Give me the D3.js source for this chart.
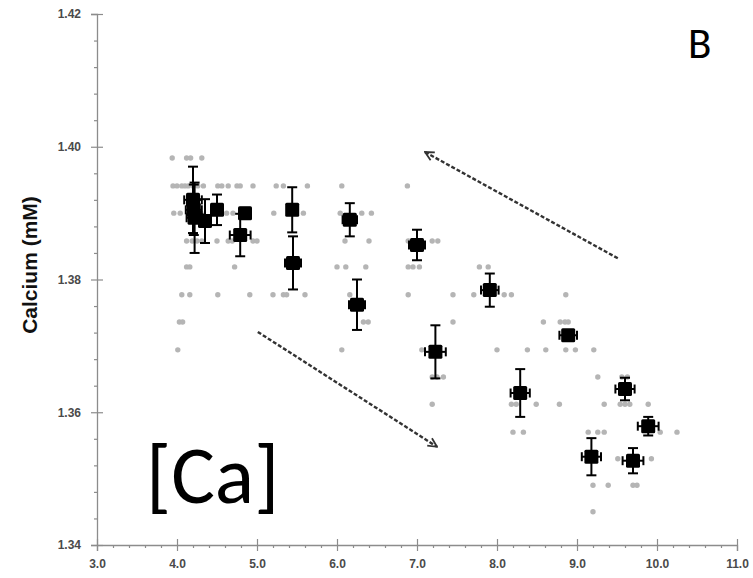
<!DOCTYPE html>
<html>
<head>
<meta charset="utf-8">
<script src="https://cdn.jsdelivr.net/npm/d3@7"></script>
<style>
  html, body { margin: 0; padding: 0; background: #fff; }
  svg { display: block; }
</style>
</head>
<body>
<svg id="chart" width="753" height="578"></svg>
<script>
// Individual calcium readings: quantised levels (mM) and the pH values read at each level
const dotLevels = [1.3983, 1.3941, 1.3900, 1.3858, 1.3819, 1.3777, 1.3736, 1.3694, 1.3653, 1.3612, 1.3570, 1.3530, 1.3490, 1.3450];
const dotXs = [
  [3.94, 4.12, 4.17, 4.31],
  [3.95, 4.00, 4.06, 4.10, 4.14, 4.20, 4.26, 4.33, 4.51, 4.56, 4.64, 4.75, 4.79, 4.95, 5.24, 5.33, 5.63, 6.06, 6.88],
  [3.96, 4.04, 4.15, 4.30, 4.62, 4.70, 5.21, 5.58, 6.04, 6.31, 6.43],
  [4.12, 4.19, 4.25, 4.31, 4.50, 4.64, 4.69, 4.95, 5.00, 6.10, 6.40, 6.89, 7.19, 7.26],
  [4.12, 4.16, 4.72, 6.00, 6.11, 6.36, 6.89, 6.95, 7.03, 7.78, 7.89],
  [4.06, 4.16, 4.51, 4.91, 5.20, 5.33, 5.37, 5.60, 6.16, 6.89, 7.45, 7.71, 8.09, 8.18, 8.86],
  [4.03, 4.07, 6.33, 6.39, 7.45, 8.58, 8.79, 8.85, 8.89],
  [4.01, 6.06, 7.06, 8.00, 8.38, 8.61, 8.86, 8.98, 9.21],
  [7.19, 7.25, 7.33, 9.26, 9.56, 9.63],
  [7.19, 8.18, 8.24, 8.49, 8.78, 9.34, 9.54, 9.60, 9.66, 9.89],
  [8.20, 8.33, 9.14, 9.26, 9.34, 10.04, 10.25],
  [9.20, 9.51, 9.93],
  [9.20, 9.39, 9.70, 9.75],
  [9.20]
];

// Group means with error (pH ± xErr, Ca ± yErr)
const meanPH  = [4.20, 4.21, 4.22, 4.35, 4.50, 4.79, 4.85, 5.44, 5.45, 6.16, 6.25, 7.00, 7.23, 7.91, 8.29, 8.89, 9.18, 9.60, 9.70, 9.89];
const meanCa  = [1.3920, 1.3905, 1.3893, 1.3888, 1.3905, 1.3867, 1.3900, 1.3905, 1.3825, 1.3890, 1.3762, 1.3852, 1.3691, 1.3784, 1.3629, 1.3716, 1.3533, 1.3635, 1.3527, 1.3579];
const errCa   = [0.0050, 0.0038, 0.0053, 0.0033, 0.0023, 0.0032, 0.0008, 0.0034, 0.0040, 0.0025, 0.0038, 0.0023, 0.0040, 0.0025, 0.0036, 0.0006, 0.0028, 0.0017, 0.0019, 0.0014];
const errPH   = [0.11, 0.10, 0.10, 0.06, 0.05, 0.13, 0.03, 0.03, 0.10, 0.09, 0.10, 0.10, 0.13, 0.11, 0.12, 0.11, 0.12, 0.12, 0.13, 0.13];

// Axis ticks
const xMajor = [3, 4, 5, 6, 7, 8, 9, 10, 11];
const yMajor = [1.34, 1.36, 1.38, 1.40, 1.42];

// Trend arrows [fromPH, fromCa, toPH, toCa]
const arrowUp   = [9.51, 1.3832, 7.10, 1.3992];
const arrowDown = [5.01, 1.3721, 7.25, 1.3548];

const svg = d3.select("#chart");
const x = d3.scaleLinear().domain([3, 11]).range([97, 737]);
const y = d3.scaleLinear().domain([1.34, 1.42]).range([545, 14]);

const defs = svg.append("defs");
defs.append("filter").attr("id", "soft")
  .append("feGaussianBlur").attr("stdDeviation", 0.6);
defs.append("marker")
  .attr("id", "head").attr("viewBox", "0 0 10 10")
  .attr("refX", 9).attr("refY", 5)
  .attr("markerWidth", 11).attr("markerHeight", 11)
  .attr("markerUnits", "userSpaceOnUse")
  .attr("orient", "auto")
  .append("path").attr("d", "M1,1 L9,5 L1,9")
  .attr("fill", "none").attr("stroke", "#333").attr("stroke-width", 1.6);

const axisColor = "#8c8c8c";
const labelFont = "'Liberation Sans', Arial, sans-serif";

// Minor ticks
const xMinor = d3.range(3, 11.0001, 0.2).filter(v => Math.abs(v - Math.round(v)) > 1e-6);
const yMinor = d3.range(1.34, 1.42001, 0.004).filter(v => yMajor.every(m => Math.abs(v - m) > 1e-6));

function styleAxis(g) {
  g.selectAll("path.domain").attr("stroke", axisColor).attr("stroke-width", 1.3);
  g.selectAll(".tick line").attr("stroke", axisColor).attr("stroke-width", 1.2);
  g.selectAll(".tick text")
    .attr("fill", "#4a4a4a").attr("font-family", labelFont)
    .attr("font-size", 12).attr("font-weight", "bold");
}

// X axis
const gx = svg.append("g").attr("transform", `translate(0,${y(1.34)})`);
gx.call(d3.axisBottom(x).tickValues(xMajor).tickSize(6).tickPadding(8).tickFormat(d3.format(".1f")));
styleAxis(gx);
svg.append("g").attr("transform", `translate(0,${y(1.34)})`)
  .call(d3.axisTop(x).tickValues(xMajor).tickSize(6).tickFormat(""))
  .call(g => g.select("path.domain").remove()).call(styleAxis);
svg.append("g").attr("transform", `translate(0,${y(1.34)})`)
  .call(d3.axisBottom(x).tickValues(xMinor).tickSize(3).tickFormat(""))
  .call(g => g.select("path.domain").remove()).call(styleAxis);

// Y axis
const gy = svg.append("g").attr("transform", `translate(${x(3)},0)`);
gy.call(d3.axisLeft(y).tickValues(yMajor).tickSize(6).tickPadding(10).tickFormat(d3.format(".2f")));
styleAxis(gy);
svg.append("g").attr("transform", `translate(${x(3)},0)`)
  .call(d3.axisRight(y).tickValues(yMajor).tickSize(6).tickFormat(""))
  .call(g => g.select("path.domain").remove()).call(styleAxis);
svg.append("g").attr("transform", `translate(${x(3)},0)`)
  .call(d3.axisLeft(y).tickValues(yMinor).tickSize(3).tickFormat(""))
  .call(g => g.select("path.domain").remove()).call(styleAxis);

// Y axis title
svg.append("text")
  .attr("transform", `translate(37,265) rotate(-90)`)
  .attr("text-anchor", "middle")
  .attr("font-family", labelFont).attr("font-weight", "bold").attr("font-size", 21)
  .attr("fill", "#111")
  .text("Calcium (mM)");

// Individual readings
const dots = [];
dotLevels.forEach((lv, i) => dotXs[i].forEach(v => dots.push([v, lv])));
svg.append("g").attr("filter", "url(#soft)")
  .selectAll("circle").data(dots).join("circle")
  .attr("cx", d => x(d[0])).attr("cy", d => y(d[1]))
  .attr("r", 2.7).attr("fill", "#b5b5b5");

// Trend arrows
[arrowUp, arrowDown].forEach(a => {
  svg.append("line")
    .attr("x1", x(a[0])).attr("y1", y(a[1]))
    .attr("x2", x(a[2])).attr("y2", y(a[3]))
    .attr("stroke", "#333").attr("stroke-width", 2.4)
    .attr("stroke-dasharray", "4,2")
    .attr("marker-end", "url(#head)");
});

// Means with error bars
const means = meanPH.map((v, i) => ({ x: v, y: meanCa[i], ey: errCa[i], ex: errPH[i] }));
const gm = svg.append("g").attr("filter", "url(#soft)");
const cap = 5, capX = 4.5;
const eb = gm.selectAll("g.err").data(means).join("g").attr("class", "err")
  .attr("stroke", "#000").attr("stroke-width", 2);
eb.append("line")
  .attr("x1", d => x(d.x)).attr("x2", d => x(d.x))
  .attr("y1", d => y(d.y + d.ey)).attr("y2", d => y(d.y - d.ey));
eb.append("line")
  .attr("x1", d => x(d.x) - cap).attr("x2", d => x(d.x) + cap)
  .attr("y1", d => y(d.y + d.ey)).attr("y2", d => y(d.y + d.ey));
eb.append("line")
  .attr("x1", d => x(d.x) - cap).attr("x2", d => x(d.x) + cap)
  .attr("y1", d => y(d.y - d.ey)).attr("y2", d => y(d.y - d.ey));
eb.append("line")
  .attr("x1", d => x(d.x - d.ex)).attr("x2", d => x(d.x + d.ex))
  .attr("y1", d => y(d.y)).attr("y2", d => y(d.y));
eb.append("line")
  .attr("x1", d => x(d.x - d.ex)).attr("x2", d => x(d.x - d.ex))
  .attr("y1", d => y(d.y) - capX).attr("y2", d => y(d.y) + capX);
eb.append("line")
  .attr("x1", d => x(d.x + d.ex)).attr("x2", d => x(d.x + d.ex))
  .attr("y1", d => y(d.y) - capX).attr("y2", d => y(d.y) + capX);
gm.selectAll("rect").data(means).join("rect")
  .attr("x", d => x(d.x) - 7).attr("y", d => y(d.y) - 7)
  .attr("width", 14).attr("height", 14).attr("rx", 1.5)
  .attr("fill", "#000");

// Panel letter and ion label
svg.append("text")
  .attr("x", 688).attr("y", 58)
  .attr("font-family", "Carlito, 'Open Sans', sans-serif").attr("font-size", 43)
  .attr("fill", "#000").text("B");
svg.append("text")
  .attr("x", 146).attr("y", 503)
  .attr("font-family", "Carlito, 'Open Sans', sans-serif").attr("font-size", 82)
  .attr("fill", "#000").text("[Ca]");
</script>
</body>
</html>
